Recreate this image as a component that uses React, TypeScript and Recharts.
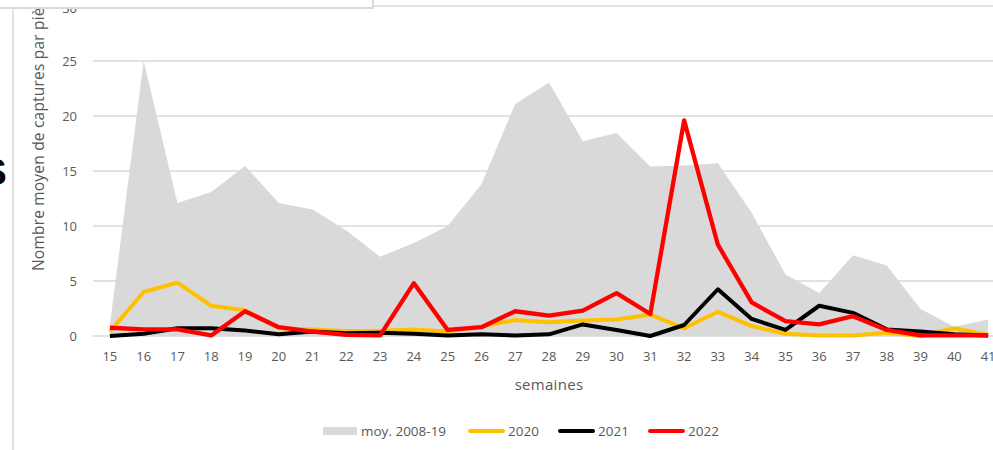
import { ComposedChart, Area, Line, XAxis, YAxis, CartesianGrid } from 'recharts';

const weeks = [15, 16, 17, 18, 19, 20, 21, 22, 23, 24, 25, 26, 27, 28, 29, 30, 31, 32, 33, 34, 35, 36, 37, 38, 39, 40, 41];
const moy2008_19 = [1.0, 25, 12.1, 13.1, 15.45, 12.1, 11.5, 9.6, 7.2, 8.45, 10.0, 13.8, 21.1, 23.05, 17.7, 18.45, 15.4, 15.5, 15.7, 11.2, 5.6, 3.9, 7.35, 6.4, 2.45, 0.85, 1.5];
const y2020 = [0.4, 4.0, 4.85, 2.75, 2.35, 0.7, 0.6, 0.45, 0.45, 0.6, 0.4, 0.85, 1.45, 1.25, 1.4, 1.5, 1.95, 0.7, 2.2, 0.9, 0.2, 0.05, 0.05, 0.3, 0.0, 0.7, 0.1];
const y2021 = [0.0, 0.2, 0.7, 0.7, 0.5, 0.15, 0.4, 0.25, 0.3, 0.2, 0.05, 0.15, 0.05, 0.15, 1.05, 0.55, 0.0, 1.0, 4.25, 1.55, 0.55, 2.75, 2.1, 0.6, 0.4, 0.15, 0.05];
const y2022 = [0.75, 0.6, 0.6, 0.05, 2.25, 0.8, 0.4, 0.1, 0.05, 4.8, 0.55, 0.8, 2.25, 1.85, 2.3, 3.9, 2.0, 19.6, 8.3, 3.05, 1.35, 1.05, 1.8, 0.55, 0.05, 0.05, 0.05];
const yTicks = [0, 5, 10, 15, 20, 25, 30];

const data = weeks.map((w, i) => ({
  week: w,
  moy: moy2008_19[i],
  y2020: y2020[i],
  y2021: y2021[i],
  y2022: y2022[i],
}));

const FONT = '"Open Sans", "Liberation Sans", sans-serif';
const TEXT = '#595959';
const GRID = '#D9D9D9';

const legendItems = [
  { label: 'moy. 2008-19', color: '#D9D9D9', kind: 'box', left: 323 },
  { label: '2020', color: '#FFC000', kind: 'line', left: 468 },
  { label: '2021', color: '#000000', kind: 'line', left: 558 },
  { label: '2022', color: '#FF0000', kind: 'line', left: 648 },
];

export default function App() {
  return (
    <div
      style={{
        position: 'fixed',
        left: 0,
        top: 0,
        width: 993,
        height: 450,
        overflow: 'hidden',
        background: '#fff',
        fontFamily: FONT,
      }}
    >
      <ComposedChart
        width={1020}
        height={450}
        data={data}
        margin={{ top: 6, right: 15, left: 0, bottom: 54 }}
      >
        <CartesianGrid vertical={false} stroke={GRID} strokeWidth={1.4} />
        <XAxis
          dataKey="week"
          type="number"
          domain={[14.5, 41.5]}
          ticks={weeks}
          interval={0}
          axisLine={false}
          tickLine={false}
          tickSize={6}
          tickMargin={10}
          height={60}
          tick={{ fill: TEXT, fontSize: 13, fontFamily: FONT }}
          label={{
            value: 'semaines',
            position: 'insideBottom',
            offset: 6,
            fill: TEXT,
            fontSize: 15,
            fontFamily: FONT,
            style: { letterSpacing: '0.3px' },
          }}
        />
        <YAxis
          type="number"
          domain={[0, 30]}
          ticks={yTicks}
          width={93}
          axisLine={false}
          tickLine={false}
          tickSize={6}
          tickMargin={10}
          tick={{ fill: TEXT, fontSize: 13, fontFamily: FONT }}
        />
        <Area
          type="linear"
          dataKey="moy"
          stroke="none"
          fill="#D9D9D9"
          fillOpacity={1}
          isAnimationActive={false}
        />
        <Line type="linear" dataKey="y2020" stroke="#FFC000" strokeWidth={4} dot={false} strokeLinejoin="round" isAnimationActive={false} />
        <Line type="linear" dataKey="y2021" stroke="#000000" strokeWidth={4} dot={false} strokeLinejoin="round" isAnimationActive={false} />
        <Line type="linear" dataKey="y2022" stroke="#FF0000" strokeWidth={4.3} dot={false} strokeLinejoin="round" isAnimationActive={false} />
      </ComposedChart>

      {/* bits of the surrounding page that show in the crop */}
      <svg width={993} height={450} style={{ position: 'absolute', left: 0, top: 0, pointerEvents: 'none' }}>
        <line x1={13} y1={0} x2={13} y2={450} stroke={GRID} strokeWidth={1.5} />
        <text x={-18} y={185} fontFamily='"Liberation Sans", Arial, sans-serif' fontWeight="bold" fontSize={37} fill="#000">
          S
        </text>
        <text
          x={44}
          y={271}
          transform="rotate(-90 44 271)"
          fill={TEXT}
          fontSize={15.5}
          fontFamily={FONT}
          style={{ letterSpacing: '0.2px' }}
        >
          Nombre moyen de captures par piège
        </text>
        <rect x={-2} y={-2} width={375} height={10} fill="#fff" stroke={GRID} strokeWidth={2} />
      </svg>

      <div style={{ position: 'absolute', left: 0, top: 421, width: 993, height: 20 }}>
        {legendItems.map((it) => (
          <div
            key={it.label}
            style={{
              position: 'absolute',
              left: it.left,
              top: 0,
              height: 20,
              display: 'flex',
              alignItems: 'center',
              fontSize: 13.5,
              color: TEXT,
              whiteSpace: 'nowrap',
            }}
          >
            {it.kind === 'box' ? (
              <span style={{ display: 'inline-block', width: 34, height: 8, background: it.color, marginRight: 4 }} />
            ) : (
              <span style={{ display: 'inline-block', width: 37, height: 4, borderRadius: 2, background: it.color, marginRight: 3 }} />
            )}
            <span>{it.label}</span>
          </div>
        ))}
      </div>
    </div>
  );
}
